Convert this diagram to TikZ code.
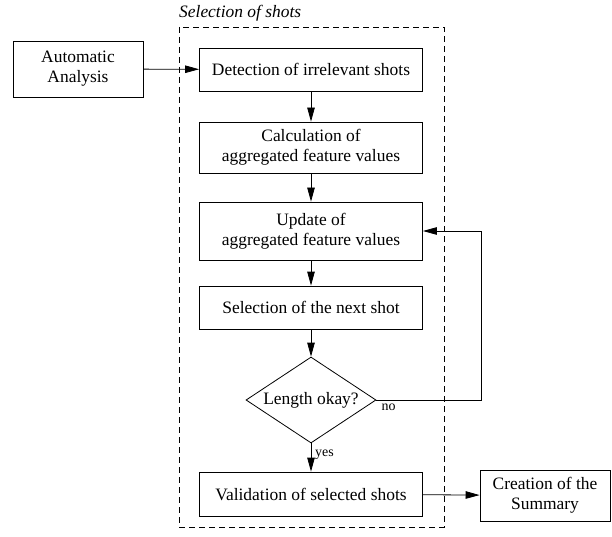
\documentclass[tikz,border=0pt]{standalone}
\usepackage{fontspec}
\setmainfont{Liberation Serif}
\usetikzlibrary{arrows.meta,shapes.geometric}

\tikzset{
  flow/.style={-{Triangle[length=14bp,width=7.5bp]}, line width=0.8bp},
  procbox/.style={draw, line width=0.8bp, minimum width=223bp, align=center, inner sep=1bp},
  outbox/.style={draw, line width=0.8bp, minimum width=130bp, align=center, inner sep=1bp},
  decision/.style={draw, diamond, line width=0.8bp, minimum width=130bp, minimum height=86bp, shape aspect=1.5, inner sep=0pt},
  smalllabel/.style={font=\fontsize{14}{16}\selectfont, inner sep=0pt}
}

\begin{document}
\begin{tikzpicture}[x=1bp, y=-1bp, font=\fontsize{17.5}{20}\selectfont]
\useasboundingbox (0,0) rectangle (612,537);

% frame of the selection stage
\draw[line width=0.8bp, dash pattern=on 6bp off 4bp] (179,27) rectangle (444,527);
\node[anchor=base west, inner sep=0pt, font=\fontsize{17.5}{20}\selectfont\itshape] (frame) at (179,18) {Selection of shots};

\node[outbox, minimum height=56bp] (auto) at (78,69) {Automatic\\Analysis};

\node[procbox, minimum height=43bp] (detect) at (311,69.5) {Detection of irrelevant shots};
\node[procbox, minimum height=51bp] (calc) at (311,147.5) {Calculation of\\aggregated feature values};
\node[procbox, minimum height=58bp] (update) at (311,231) {Update of\\aggregated feature values};
\node[procbox, minimum height=43bp] (select) at (311,307.5) {Selection of the next shot};
\node[decision] (check) at (311,400) {Length okay?};
\node[procbox, minimum height=44bp] (valid) at (311,494) {Validation of selected shots};

\node[outbox, minimum height=51bp] (summary) at (545,495.5) {Creation of the\\Summary};

\coordinate (back) at (481,231);

\draw[flow] (auto) -- (detect);
\draw[flow] (detect) -- (calc);
\draw[flow] (calc) -- (update);
\draw[flow] (update) -- (select);
\draw[flow] (select) -- (check);
\draw[flow] (check) -- (valid);
\draw[flow] (check.east) -| (back) -- (update.east);
\draw[flow] (valid) -- (summary);

\node[smalllabel, anchor=north west] (nolabel) at ([xshift=5bp,yshift=-4bp]check.east) {no};
\node[smalllabel, anchor=west] (yeslabel) at ([xshift=4bp,yshift=-11bp]check.south) {yes};
\end{tikzpicture}
\end{document}
